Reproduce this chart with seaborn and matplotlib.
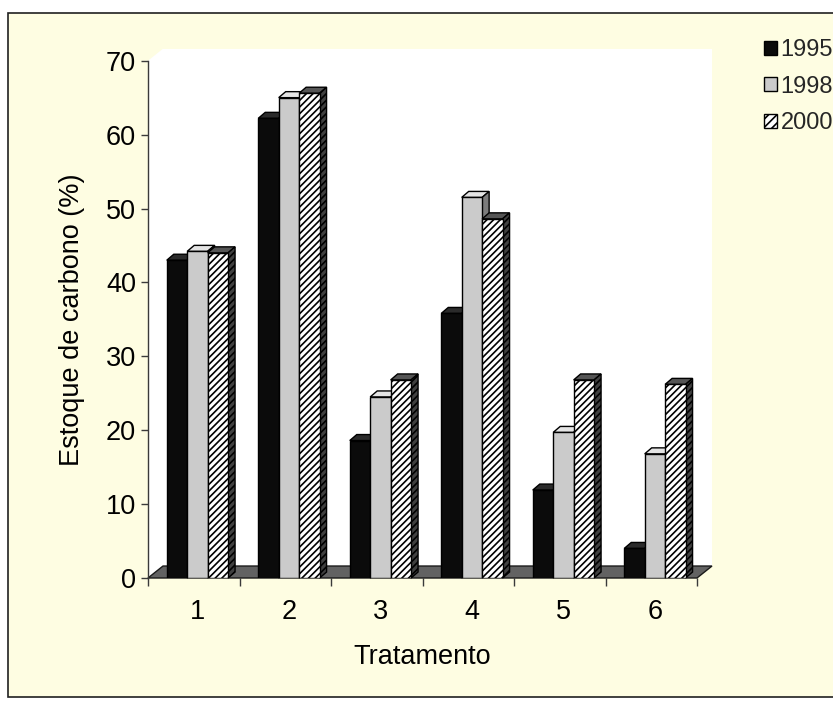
import numpy as np
import pandas as pd
import matplotlib
matplotlib.use("Agg")
import matplotlib.pyplot as plt
import seaborn as sns
from matplotlib.patches import Polygon, Rectangle, Patch

# ---------------- data ----------------
tratamentos = ["1", "2", "3", "4", "5", "6"]
anos = ["1995", "1998", "2000"]
v1995 = [43.0, 62.2, 18.6, 35.8, 11.9, 4.0]
v1998 = [44.2, 65.0, 24.5, 51.5, 19.7, 16.8]
v2000 = [44.0, 65.6, 26.8, 48.6, 26.8, 26.2]
yticks = [0, 10, 20, 30, 40, 50, 60, 70]

df = pd.DataFrame({
    "Tratamento": tratamentos * 3,
    "Ano": np.repeat(anos, len(tratamentos)),
    "Estoque": v1995 + v1998 + v2000,
})

# ---------------- style ----------------
sns.set_theme(style="ticks")
plt.rcParams["font.family"] = ["Liberation Sans", "DejaVu Sans"]
plt.rcParams["hatch.linewidth"] = 1.2

W, H = 833, 707
CREAM = "#FEFDE2"
fig = plt.figure(figsize=(W / 100, H / 100), dpi=100, facecolor="white")

# outer cream frame
fig.add_artist(Rectangle((8 / W, 1 - 697 / H), 2, (697 - 13) / H,
                         transform=fig.transFigure, facecolor=CREAM,
                         edgecolor="#202020", lw=1.2, zorder=0))

ax = fig.add_axes([148 / W, 1 - 578 / H, (697 - 148) / W, (578 - 60.7) / H])
ax.set_facecolor("none")

front_cols = ["#0b0b0b", "#cbcbcb", "#ffffff"]
sns.barplot(data=df, x="Tratamento", y="Estoque", hue="Ano",
            order=tratamentos, hue_order=anos, palette=front_cols,
            width=0.67, saturation=1, errorbar=None, legend=False,
            edgecolor="black", linewidth=1.0, ax=ax)

x_lo, x_hi = -0.54, 5.46
ax.set_xlim(x_lo, x_hi)
ax.set_ylim(0, 70)

# depth offsets (data units)
dxw, dyw = 15 / 91.5, 12 / 7.4     # walls / floor
dxb, dyb = 7 / 91.5, 6 / 7.4       # bars

# walls and floor
side_wall = Polygon([(x_lo, 0), (x_lo + dxw, dyw), (x_lo + dxw, 70 + dyw), (x_lo, 70)],
                    closed=True, fc="white", ec="none", zorder=0.5, clip_on=False)
back_wall = Rectangle((x_lo + dxw, dyw), x_hi - x_lo, 70, fc="white", ec="none",
                      zorder=0.5, clip_on=False)
floor = Polygon([(x_lo, 0), (x_hi, 0), (x_hi + dxw, dyw), (x_lo + dxw, dyw)],
                closed=True, fc="#626262", ec="#1a1a1a", lw=1.0, zorder=1, clip_on=False)
for p in (side_wall, back_wall, floor):
    ax.add_patch(p)

HATCH = "/////"
side_cols = ["#000000", "#7c7c7c", "#404040"]
top_cols = ["#2b2b2b", "#e4e4e4", "#555555"]
for h, cont in enumerate(ax.containers):
    for bar in cont:
        x0, w, ht = bar.get_x(), bar.get_width(), bar.get_height()
        bar.set_zorder(2 + h * 0.3 + 0.1)
        if h == 2:
            bar.set_hatch(HATCH)
        top = Polygon([(x0, ht), (x0 + dxb, ht + dyb), (x0 + w + dxb, ht + dyb), (x0 + w, ht)],
                      closed=True, fc=top_cols[h], ec="black", lw=1.0,
                      zorder=2 + h * 0.3, clip_on=False)
        side = Polygon([(x0 + w, 0), (x0 + w + dxb, dyb), (x0 + w + dxb, ht + dyb), (x0 + w, ht)],
                       closed=True, fc=side_cols[h], ec="black", lw=1.0,
                       zorder=2 + h * 0.3, clip_on=False,
                       hatch=HATCH if h == 2 else None)
        ax.add_patch(top)
        ax.add_patch(side)

# axes / ticks
for s in ["top", "right", "bottom"]:
    ax.spines[s].set_visible(False)
ax.spines["left"].set_color("#3a3a3a")
ax.spines["left"].set_linewidth(1.0)
ax.spines["left"].set_zorder(1.5)

FS = 19.5
ax.set_yticks(yticks)
ax.set_yticklabels([str(t) for t in yticks])
ax.tick_params(axis="y", direction="out", length=5, width=1, color="#3a3a3a",
               pad=3.5, labelsize=FS, labelcolor="black")

ax.set_xticks(range(len(tratamentos)))
ax.set_xticklabels(tratamentos)
ax.set_xticks([x_lo + k for k in range(len(tratamentos) + 1)], minor=True)
ax.tick_params(axis="x", which="major", length=0, pad=15, labelsize=FS, labelcolor="black")
ax.tick_params(axis="x", which="minor", direction="out", length=6, width=1, color="#3a3a3a")

ax.set_xlabel("Tratamento", fontsize=FS, labelpad=14, color="black")
ax.set_ylabel("Estoque de carbono (%)", fontsize=FS, labelpad=15, color="black")

# legend
handles = [Patch(facecolor=front_cols[0], edgecolor="black"),
           Patch(facecolor=front_cols[1], edgecolor="black"),
           Patch(facecolor="white", edgecolor="black", hatch="////")]
fig.legend(handles, anos, loc="upper left", bbox_to_anchor=(764 / W, 1 - 39 / H),
           frameon=False, fontsize=17, handlelength=0.55, handleheight=0.55,
           handletextpad=0.15, labelspacing=0.62, borderpad=0, borderaxespad=0)

fig.savefig("out.png", dpi=100, facecolor=fig.get_facecolor())
